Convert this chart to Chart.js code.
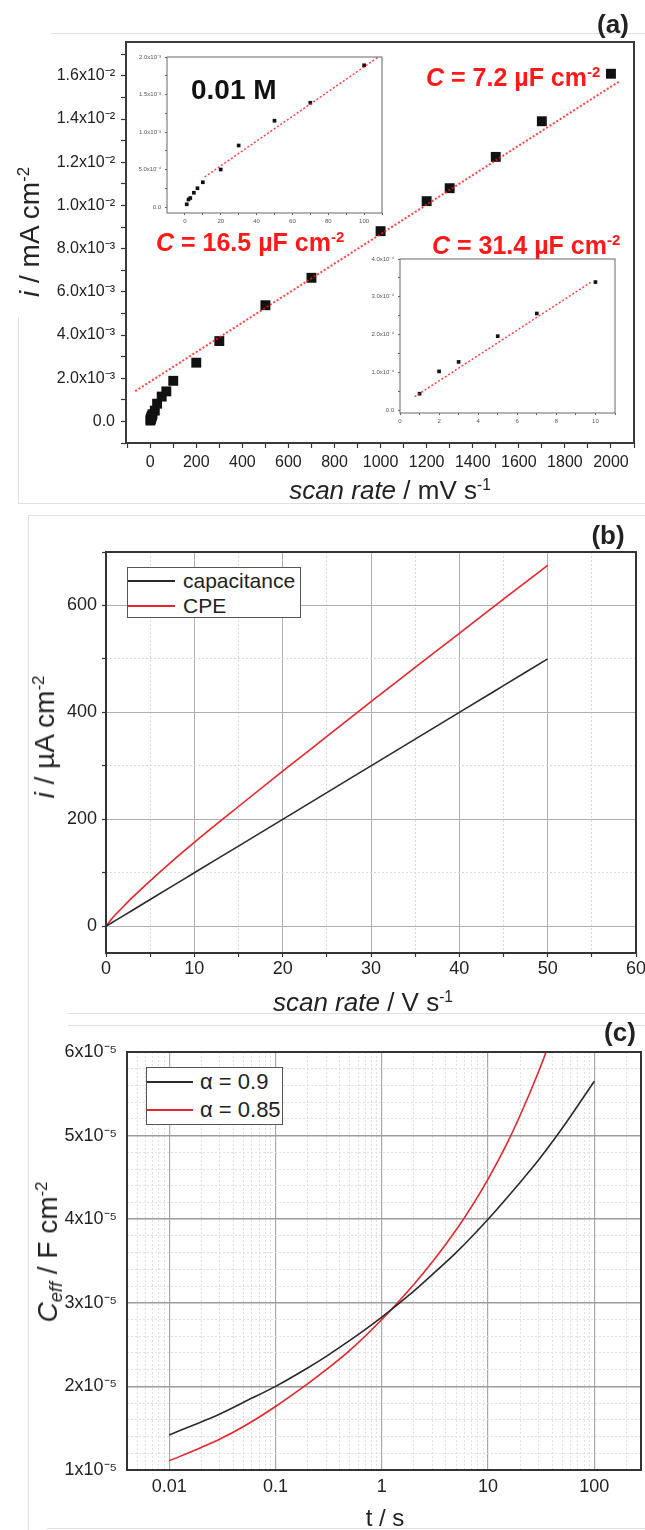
<!DOCTYPE html>
<html>
<head>
<meta charset="utf-8">
<title>Scan rate / capacitance</title>
<script src="https://cdn.jsdelivr.net/npm/chart.js@4.4.1/dist/chart.umd.min.js"></script>
<style>
  html,body{margin:0;padding:0;background:#fff;}
  #page{position:relative;width:645px;height:1530px;overflow:hidden;font-family:"Liberation Sans",Arial,sans-serif;color:#222;}
  #page canvas{position:absolute;}
  .t{position:absolute;white-space:nowrap;line-height:1;}
  .c{transform:translate(-50%,-50%);}
  .v{transform:translate(-50%,-50%) rotate(-90deg);}
  .l{transform:translateY(-50%);}
  .b{font-weight:bold;}
  .red{color:#ff1a1a;}
  sup{font-size:0.6em;vertical-align:0.6em;line-height:0;}
  sub{font-size:0.65em;vertical-align:-0.3em;line-height:0;}
  .edge{position:absolute;border:0 solid #e0e0e0;}
  .leg{position:absolute;border:1px solid #555;background:#fff;box-sizing:border-box;}
  .lrow{position:absolute;left:0;right:0;display:flex;align-items:center;line-height:1;color:#222;}
  .lline{display:inline-block;height:2px;}
</style>
</head>
<body>
<div id="page">
  <div class="edge" style="left:51px;top:33px;width:594px;border-top-width:1px"></div>
  <div class="edge" style="left:18px;top:317px;height:187px;border-left-width:1px"></div>
  <div class="edge" style="left:18px;top:503px;width:627px;border-top-width:1px"></div>
  <div class="edge" style="left:28px;top:515px;width:617px;border-top-width:1px"></div>
  <div class="edge" style="left:28px;top:515px;height:1015px;border-left-width:1px"></div>
  <div class="edge" style="left:68px;top:1013px;width:577px;border-top-width:1px"></div>
  <div class="edge" style="left:68px;top:1025px;width:577px;border-top-width:1px"></div>
  <div class="edge" style="left:47px;top:1528px;width:598px;border-top-width:1px"></div>

  <canvas id="chartA" width="645" height="505" style="left:0;top:0"></canvas>
  <canvas id="inset1" width="270" height="185" style="left:120px;top:50px"></canvas>
  <canvas id="inset2" width="275" height="185" style="left:350px;top:250px"></canvas>
  <canvas id="chartB" width="645" height="510" style="left:0;top:505px"></canvas>
  <canvas id="chartC" width="645" height="515" style="left:0;top:1015px"></canvas>

  <!-- panel (a) -->
  <div class="t c b" style="left:613px;top:24px;font-size:26px">(a)</div>
  <div class="t c" style="left:390px;top:490px;font-size:26px"><i>scan rate</i> / mV s<sup>-1</sup></div>
  <div class="t v" style="left:30px;top:232px;font-size:28px"><i>i</i> / mA cm<sup>-2</sup></div>
  <div class="t l b red" style="left:426px;top:77px;font-size:25px"><i>C</i> = 7.2 µF cm<sup>-2</sup></div>
  <div class="t l b red" style="left:156px;top:242px;font-size:25px"><i>C</i> = 16.5 µF cm<sup>-2</sup></div>
  <div class="t l b red" style="left:432px;top:245px;font-size:25px"><i>C</i> = 31.4 µF cm<sup>-2</sup></div>
  <div class="t l b" style="left:191px;top:90px;font-size:28px;color:#111">0.01 M</div>

  <!-- panel (b) -->
  <div class="t c b" style="left:608px;top:535px;font-size:26px">(b)</div>
  <div class="t c" style="left:363px;top:1002px;font-size:26px"><i>scan rate</i> / V s<sup>-1</sup></div>
  <div class="t v" style="left:45px;top:737px;font-size:28px"><i>i</i> / µA cm<sup>-2</sup></div>
  <div id="legB" class="leg" style="left:127px;top:567px;width:174px;height:51px"></div>

  <!-- panel (c) -->
  <div class="t c b" style="left:620px;top:1032px;font-size:26px">(c)</div>
  <div class="t c" style="left:385px;top:1518px;font-size:24px">t / s</div>
  <div class="t v" style="left:48px;top:1252px;font-size:28px"><i>C</i><sub><i>eff</i></sub> / F cm<sup>-2</sup></div>
  <div id="legC" class="leg" style="left:146px;top:1067px;width:137px;height:58px"></div>
</div>

<script>
// ---- panel (a): 0.01 M, current vs scan rate (mV/s -> mA cm-2)
const scanRateA = [1, 2, 3, 5, 7, 10, 20, 30, 50, 70, 100, 200, 300, 500, 700, 1000, 1200, 1300, 1500, 1700, 2000];
const currentA = [4.0e-5, 1.0e-4, 1.25e-4, 1.9e-4, 2.5e-4, 3.3e-4, 5.0e-4, 8.2e-4, 1.15e-3, 1.39e-3, 1.88e-3,
                  2.72e-3, 3.72e-3, 5.38e-3, 6.65e-3, 8.81e-3, 1.02e-2, 1.08e-2, 1.225e-2, 1.39e-2, 1.61e-2];
const fitAX = [-65, 2035];
const fitAY = [1.40e-3, 1.574e-2];

// inset 1 (0 - 100 mV/s)
const scanRateIn1 = [1, 2, 3, 5, 7, 10, 20, 30, 50, 70, 100];
const currentIn1 = [3.6e-5, 1.0e-4, 1.2e-4, 1.9e-4, 2.5e-4, 3.3e-4, 5.0e-4, 8.2e-4, 1.15e-3, 1.39e-3, 1.89e-3];
const fitIn1X = [11, 108];
const fitIn1Y = [4.0e-4, 2.0e-3];

// inset 2 (0 - 10 mV/s)
const scanRateIn2 = [1, 2, 3, 5, 7, 10];
const currentIn2 = [4.4e-5, 1.03e-4, 1.28e-4, 1.96e-4, 2.56e-4, 3.39e-4];
const fitIn2X = [0.75, 9.75];
const fitIn2Y = [3.6e-5, 3.38e-4];

// ---- panel (b): capacitance vs CPE (V/s -> µA cm-2)
const seriesB = ['capacitance', 'CPE'];
const scanRateB = [0, 0.5, 1, 2, 3, 5, 7.5, 10, 15, 20, 25, 30, 35, 40, 45, 50];
const capB = [0, 5, 10, 20, 30, 50, 75, 100, 150, 200, 250, 300, 350, 400, 450, 500];
const cpeB = [0, 11, 20.5, 37.5, 54, 85, 122, 157, 224, 290, 355, 420, 484, 548, 612, 675];

// ---- panel (c): C_eff vs t
const seriesC = ['α = 0.9', 'α = 0.85'];
const timeC09 = [0.01, 0.02, 0.03, 0.05, 0.1, 0.2, 0.3, 0.5, 1, 2, 3, 5, 10, 20, 30, 50, 100];
const ceff09 = [1.42e-5, 1.575e-5, 1.67e-5, 1.81e-5, 2.00e-5, 2.22e-5, 2.36e-5, 2.55e-5, 2.83e-5,
                3.14e-5, 3.34e-5, 3.60e-5, 4.00e-5, 4.44e-5, 4.71e-5, 5.09e-5, 5.65e-5];
const timeC085 = [0.01, 0.02, 0.03, 0.05, 0.1, 0.2, 0.3, 0.5, 1, 2, 3, 5, 7, 10, 15, 20, 30, 40];
const ceff085 = [1.11e-5, 1.27e-5, 1.37e-5, 1.52e-5, 1.76e-5, 2.03e-5, 2.20e-5, 2.43e-5, 2.80e-5,
                 3.22e-5, 3.49e-5, 3.87e-5, 4.15e-5, 4.48e-5, 4.90e-5, 5.24e-5, 5.77e-5, 6.19e-5];

// ---- tick labels
const xTicksA = [0, 200, 400, 600, 800, 1000, 1200, 1400, 1600, 1800, 2000];
const xLabelsA = ['0', '200', '400', '600', '800', '1000', '1200', '1400', '1600', '1800', '2000'];
const yTicksA = [0, 0.002, 0.004, 0.006, 0.008, 0.010, 0.012, 0.014, 0.016];
const yLabelsA = ['0.0', '2.0x10⁻³', '4.0x10⁻³', '6.0x10⁻³', '8.0x10⁻³', '1.0x10⁻²', '1.2x10⁻²', '1.4x10⁻²', '1.6x10⁻²'];
const xTicksIn1 = [0, 20, 40, 60, 80, 100];
const xLabelsIn1 = ['0', '20', '40', '60', '80', '100'];
const yTicksIn1 = [0, 5e-4, 1e-3, 1.5e-3, 2e-3];
const yLabelsIn1 = ['0.0', '5.0x10⁻⁴', '1.0x10⁻³', '1.5x10⁻³', '2.0x10⁻³'];
const xTicksIn2 = [0, 2, 4, 6, 8, 10];
const xLabelsIn2 = ['0', '2', '4', '6', '8', '10'];
const yTicksIn2 = [0, 1e-4, 2e-4, 3e-4, 4e-4];
const yLabelsIn2 = ['0.0', '1.0x10⁻⁴', '2.0x10⁻⁴', '3.0x10⁻⁴', '4.0x10⁻⁴'];
const xTicksB = [0, 10, 20, 30, 40, 50, 60];
const xLabelsB = ['0', '10', '20', '30', '40', '50', '60'];
const yTicksB = [0, 200, 400, 600];
const yLabelsB = ['0', '200', '400', '600'];
const xTicksC = [0.01, 0.1, 1, 10, 100];
const xLabelsC = ['0.01', '0.1', '1', '10', '100'];
const yTicksC = [1e-5, 2e-5, 3e-5, 4e-5, 5e-5, 6e-5];
const yLabelsC = ['1x10⁻⁵', '2x10⁻⁵', '3x10⁻⁵', '4x10⁻⁵', '5x10⁻⁵', '6x10⁻⁵'];

const BLACK = '#2a2a2a';
const RED = '#e4252b';
const FIT = 'rgba(255,20,20,0.8)';

Chart.defaults.font.family = '"Liberation Sans", Arial, sans-serif';
Chart.defaults.color = '#222';

const pts = (xs, ys) => xs.map((x, i) => ({x, y: ys[i]}));

function steps(a, b, s){
  const out = [];
  const n = Math.round((b - a) / s);
  for(let i = 0; i <= n; i++) out.push(+(a + i * s).toPrecision(10));
  return out;
}

function logSteps(min, max){
  const out = [];
  for(let e = -3; e <= 2; e++){
    for(let m = 1; m <= 9; m++){
      const v = +(m * Math.pow(10, e)).toPrecision(6);
      if(v >= min && v <= max) out.push(v);
    }
  }
  return out;
}

const same = (a, b) => Math.abs(a - b) <= Math.abs(a) * 1e-6 + 1e-12;

function labelFor(vals, labels){
  return (v) => {
    const i = vals.findIndex(t => same(t, v));
    return i < 0 ? '' : labels[i];
  };
}

// frame round the plot area, optional white fill under it
const framePlugin = {
  id: 'frame',
  beforeDraw(chart, args, o){
    if(!o.fill) return;
    const {ctx, chartArea: a} = chart;
    ctx.save();
    ctx.fillStyle = o.fill;
    ctx.fillRect(a.left, a.top, a.width, a.height);
    ctx.restore();
  },
  afterDraw(chart, args, o){
    const {ctx, chartArea: a} = chart;
    ctx.save();
    ctx.strokeStyle = o.color || '#333';
    ctx.lineWidth = o.width || 2;
    ctx.strokeRect(a.left, a.top, a.width, a.height);
    ctx.restore();
  }
};
Chart.register(framePlugin);

function axis(o){
  const major = (c) => c.tick && o.vals.some(t => same(t, c.tick.value));
  return {
    type: o.type || 'linear',
    position: o.pos,
    min: o.min,
    max: o.max,
    afterBuildTicks: (s) => { s.ticks = o.at.map(v => ({value: v})); },
    afterFit: (s) => {
      if(o.pos === 'left'){ s.width = o.size; s.paddingTop = 0; s.paddingBottom = 0; }
      else { s.height = o.size; s.paddingLeft = 0; s.paddingRight = 0; }
    },
    ticks: {
      autoSkip: false, maxRotation: 0, minRotation: 0,
      padding: o.pad, color: o.tc || '#222',
      font: {size: o.fs},
      callback: labelFor(o.vals, o.labels)
    },
    grid: {
      drawOnChartArea: !!o.grid,
      drawTicks: (o.tl || 0) > 0,
      tickLength: o.tl || 0,
      tickColor: o.tkc || '#333',
      tickWidth: o.tw || 1.2,
      color: (c) => major(c) ? (o.majC || '#b0b0b0') : (o.minC || '#dadada'),
      lineWidth: (c) => major(c) ? (o.majW || 1) : 1
    },
    border: {
      display: false,
      dash: (c) => major(c) ? [] : [2, 2]
    }
  };
}

function opts(pad, scales, frame){
  return {
    responsive: false,
    animation: false,
    devicePixelRatio: 1,
    layout: {padding: pad},
    plugins: {legend: {display: false}, tooltip: {enabled: false}, frame},
    scales
  };
}

function fitLine(xs, ys, w){
  return {data: pts(xs, ys), showLine: true, pointRadius: 0, borderColor: FIT, borderWidth: w, borderDash: [2, 2]};
}

function squares(xs, ys, r){
  return {data: pts(xs, ys), pointStyle: 'rect', pointRadius: r, backgroundColor: '#111', borderWidth: 0};
}

function curve(label, xs, ys, color){
  return {label, data: pts(xs, ys), showLine: true, pointRadius: 0, borderColor: color, borderWidth: 1.6,
          cubicInterpolationMode: 'monotone'};
}

// panel (a) main
new Chart(document.getElementById('chartA'), {
  type: 'scatter',
  data: {datasets: [fitLine(fitAX, fitAY, 2), squares(scanRateA, currentA, 7)]},
  options: opts({top: 42, right: 11, left: 0, bottom: 0}, {
    x: axis({pos: 'bottom', min: -105, max: 2100, at: steps(-100, 2100, 100), vals: xTicksA, labels: xLabelsA,
             size: 62, pad: 5, fs: 16, tl: 5}),
    y: axis({pos: 'left', min: -0.001, max: 0.01757, at: steps(-0.001, 0.017, 0.001), vals: yTicksA, labels: yLabelsA,
             size: 126, pad: 6, fs: 16, tl: 5})
  }, {color: '#3a3a3a', width: 2})
});

// inset 1
new Chart(document.getElementById('inset1'), {
  type: 'scatter',
  data: {datasets: [fitLine(fitIn1X, fitIn1Y, 1.5), squares(scanRateIn1, currentIn1, 2.6)]},
  options: opts({top: 7, right: 8, left: 0, bottom: 0}, {
    x: axis({pos: 'bottom', min: -10, max: 110, at: steps(0, 110, 10), vals: xTicksIn1, labels: xLabelsIn1,
             size: 22, pad: 3, fs: 6, tl: 2, tc: '#555', tkc: '#666', tw: 1}),
    y: axis({pos: 'left', min: -8e-5, max: 2e-3, at: steps(0, 0.002, 0.00025), vals: yTicksIn1, labels: yLabelsIn1,
             size: 47, pad: 4, fs: 6, tl: 2, tc: '#555', tkc: '#666', tw: 1})
  }, {color: '#666', width: 1, fill: '#fff'})
});

// inset 2
new Chart(document.getElementById('inset2'), {
  type: 'scatter',
  data: {datasets: [fitLine(fitIn2X, fitIn2Y, 1.5), squares(scanRateIn2, currentIn2, 2.6)]},
  options: opts({top: 9, right: 10, left: 0, bottom: 0}, {
    x: axis({pos: 'bottom', min: 0, max: 11, at: steps(0, 11, 1), vals: xTicksIn2, labels: xLabelsIn2,
             size: 22, pad: 3, fs: 6, tl: 2, tc: '#555', tkc: '#666', tw: 1}),
    y: axis({pos: 'left', min: -7e-6, max: 4e-4, at: steps(0, 0.0004, 0.00005), vals: yTicksIn2, labels: yLabelsIn2,
             size: 50, pad: 4, fs: 6, tl: 2, tc: '#555', tkc: '#666', tw: 1})
  }, {color: '#666', width: 1, fill: '#fff'})
});

// panel (b)
const chartB = new Chart(document.getElementById('chartB'), {
  type: 'scatter',
  data: {datasets: [curve(seriesB[0], scanRateB, capB, BLACK), curve(seriesB[1], scanRateB, cpeB, RED)]},
  options: opts({top: 47, right: 9, left: 0, bottom: 0}, {
    x: axis({pos: 'bottom', min: 0, max: 60, at: steps(0, 60, 5), vals: xTicksB, labels: xLabelsB,
             size: 62, pad: 1, fs: 18, tl: 4, grid: true}),
    y: axis({pos: 'left', min: -50, max: 700, at: steps(0, 700, 100), vals: yTicksB, labels: yLabelsB,
             size: 106, pad: 5, fs: 18, tl: 4, grid: true})
  }, {color: '#333', width: 2})
});

// panel (c)
const chartC = new Chart(document.getElementById('chartC'), {
  type: 'scatter',
  data: {datasets: [curve(seriesC[0], timeC09, ceff09, BLACK), curve(seriesC[1], timeC085, ceff085, RED)]},
  options: opts({top: 37, right: 4, left: 0, bottom: 0}, {
    x: axis({type: 'logarithmic', pos: 'bottom', min: 0.004, max: 275, at: logSteps(0.004, 275), vals: xTicksC, labels: xLabelsC,
             size: 60, pad: 6, fs: 18, grid: true, majC: '#a8a8a8', majW: 1.2, minC: '#e0e0e0'}),
    y: axis({pos: 'left', min: 1e-5, max: 6e-5, at: steps(1e-5, 6e-5, 2e-6), vals: yTicksC, labels: yLabelsC,
             size: 127, pad: 10, fs: 18, grid: true, majC: '#9c9c9c', majW: 1.5, minC: '#e0e0e0'})
  }, {color: '#333', width: 2})
});

function legend(id, chart, o){
  const box = document.getElementById(id);
  chart.data.datasets.forEach((d, i) => {
    const row = document.createElement('div');
    row.className = 'lrow';
    row.style.top = (o.top + i * o.row) + 'px';
    row.style.height = o.row + 'px';
    row.style.fontSize = o.fs + 'px';
    row.innerHTML = `<span class="lline" style="width:${o.line}px;background:${d.borderColor}"></span>` +
                    `<span style="margin-left:${o.gap}px">${d.label}</span>`;
    box.appendChild(row);
  });
}

legend('legB', chartB, {top: 0, row: 25, fs: 21, line: 47, gap: 8});
legend('legC', chartC, {top: 0, row: 28, fs: 22, line: 46, gap: 7});
</script>
</body>
</html>
